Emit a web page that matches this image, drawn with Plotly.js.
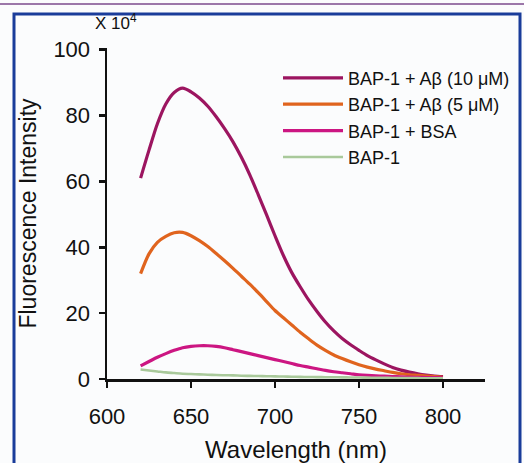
<!DOCTYPE html>
<html>
<head>
<meta charset="utf-8">
<script src="https://cdn.plot.ly/plotly-3.0.1.min.js"></script>
<style>
html,body{margin:0;padding:0;background:#fbfcfd;}
#chart{width:524px;height:463px;}
</style>
</head>
<body>
<div id="chart"></div>
<script>
// Wavelength (nm)
const wavelength = [620,625,630,635,640,645,650,655,660,665,670,675,680,685,690,695,700,705,710,715,720,725,730,735,740,745,750,755,760,765,770,775,780,785,790,795,800];
// Fluorescence intensity (x 10^4)
const abeta10 = [61,69.5,77.5,83.5,87,88.3,87.2,85.3,82.8,79.6,76,72,67.3,62,56,49.8,43.5,37.5,32.3,28,24,20.5,17.3,14.6,12.3,10.4,8.7,7.1,5.8,4.6,3.5,2.7,2.1,1.6,1.2,0.9,0.7];
const abeta5 = [32,38,41.5,43.3,44.4,44.5,43.5,42,40.2,38.1,35.9,33.6,31.2,28.8,26.2,23.5,20.8,18.6,16.4,14.2,12.2,10.3,8.7,7.3,6.2,5.2,4.3,3.6,3.0,2.5,2.0,1.6,1.3,1.1,0.9,0.7,0.5];
const bsa = [4,5.3,6.6,7.7,8.7,9.5,9.9,10.1,10.1,9.9,9.5,8.9,8.3,7.7,7.1,6.5,5.9,5.3,4.7,4.1,3.6,3.1,2.6,2.2,1.9,1.6,1.3,1.1,0.95,0.85,0.75,0.65,0.55,0.5,0.45,0.4,0.35];
const bap1 = [2.9,2.6,2.3,2.0,1.8,1.6,1.5,1.4,1.3,1.2,1.15,1.1,1.0,0.95,0.9,0.85,0.8,0.75,0.7,0.65,0.6,0.58,0.55,0.52,0.5,0.47,0.44,0.41,0.38,0.35,0.32,0.3,0.28,0.26,0.24,0.22,0.2];
const seriesNames = ['BAP-1 + Aβ (10 μM)','BAP-1 + Aβ (5 μM)','BAP-1 + BSA','BAP-1'];
const xTicks = [600,650,700,750,800];
const yTicks = [0,20,40,60,80,100];

const colors = ['#9c1560','#e0641e','#cc1682','#a9c99b'];
const widths = [3.2,3.2,3.2,2.6];
const ys = [abeta10, abeta5, bsa, bap1];

const traces = ys.map((y,i)=>({
  x: wavelength, y: y, type:'scatter', mode:'lines', name: seriesNames[i],
  line:{color:colors[i], width:widths[i], shape:'spline', smoothing:0.8}
}));

const L=107, R=485, T=48.4, B=379;
const W=R-L, H=B-T;
const px=v=>(v-L)/W, py=v=>(B-v)/H;

const layout = {
  width:524, height:463,
  margin:{l:L, r:524-R, t:T, b:463-B, pad:0, autoexpand:false},
  paper_bgcolor:'#fbfcfd', plot_bgcolor:'rgba(0,0,0,0)',
  font:{family:'Liberation Sans, Arial, sans-serif', color:'#111'},
  showlegend:true,
  legend:{x:px(278), y:py(60), xanchor:'left', yanchor:'top', bgcolor:'rgba(0,0,0,0)',
    font:{size:18, color:'#111'}, tracegroupgap:0, itemwidth:60},
  xaxis:{range:[600,825], tickvals:xTicks, ticktext:xTicks.map(String),
    showline:true, linecolor:'#111', linewidth:2.5, ticks:'outside', ticklen:6, tickwidth:2.5, tickcolor:'#111',
    showgrid:false, zeroline:false, tickfont:{size:22}, ticklabelstandoff:10,
    title:{text:'Wavelength (nm)', font:{size:24}, standoff:14}},
  yaxis:{range:[0,100.5], tickvals:yTicks, ticktext:yTicks.map(String),
    showline:true, linecolor:'#111', linewidth:2.5, ticks:'outside', ticklen:6, tickwidth:2.5, tickcolor:'#111',
    showgrid:false, zeroline:false, tickfont:{size:22}, ticklabelstandoff:4,
    title:{text:'Fluorescence Intensity', font:{size:23}, standoff:11}},
  annotations:[{xref:'paper', yref:'paper', x:px(93), y:py(22), xanchor:'left', yanchor:'middle',
    text:'X 10<sup>4</sup>', showarrow:false, font:{size:17, color:'#111'}}],
  shapes:[
    {type:'rect', xref:'paper', yref:'paper', x0:px(14), x1:px(520), y0:py(475), y1:py(14.5),
      line:{color:'#1a3c9a', width:3}, layer:'below'},
    {type:'line', xref:'paper', yref:'paper', x0:px(-5), x1:px(530), y0:py(4.5), y1:py(4.5),
      line:{color:'#7d4b8c', width:1.5}}
  ]
};
Plotly.newPlot('chart', traces, layout, {displayModeBar:false, staticPlot:true});
</script>
</body>
</html>
